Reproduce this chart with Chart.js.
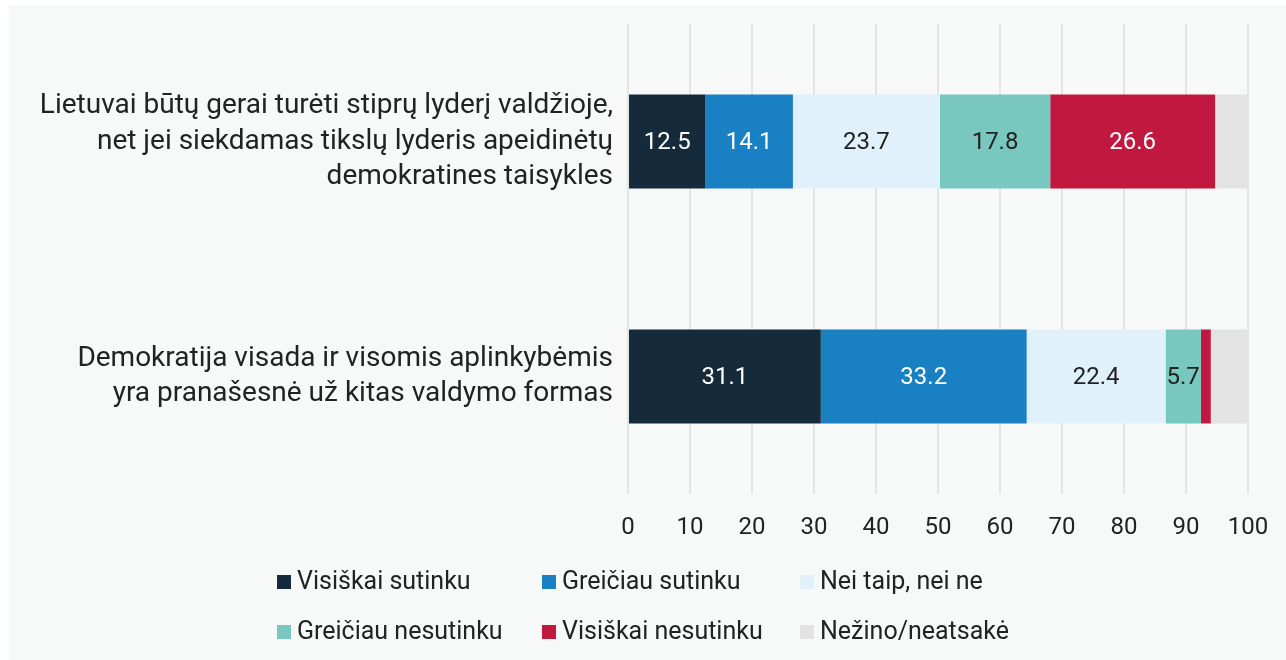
<!DOCTYPE html>
<html>
<head>
<meta charset="utf-8">
<script src="https://cdn.jsdelivr.net/npm/chart.js@4.4.1/dist/chart.umd.min.js"></script>
<style>
  html, body { margin: 0; padding: 0; background: #ffffff; }
  #panel { position: absolute; left: 9px; top: 5px; width: 1277px; height: 655px; background: #f7f9f9; }
  canvas { display: block; }
</style>
</head>
<body>
<div id="panel"><canvas id="c" width="1277" height="655"></canvas></div>
<script>
const categories = [
  ["Lietuvai būtų gerai turėti stiprų lyderį valdžioje,", "net jei siekdamas tikslų lyderis apeidinėtų", "demokratines taisykles"],
  ["Demokratija visada ir visomis aplinkybėmis", "yra pranašesnė už kitas valdymo formas"]
];
const seriesNames = ["Visiškai sutinku", "Greičiau sutinku", "Nei taip, nei ne", "Greičiau nesutinku", "Visiškai nesutinku", "Nežino/neatsakė"];
const visiskaiSutinku   = [12.5, 31.1];
const greiciauSutinku   = [14.1, 33.2];
const neiTaipNeiNe      = [23.7, 22.4];
const greiciauNesutinku = [17.8, 5.7];
const visiskaiNesutinku = [26.6, 1.6];
const nezinoNeatsake    = [5.3, 6.0];
const xTicks = [0, 10, 20, 30, 40, 50, 60, 70, 80, 90, 100];

const colors = ["#152b3c", "#1a80c4", "#e1f1fc", "#79c8c0", "#c0183f", "#e3e3e3"];
const labelColors = ["#ffffff", "#ffffff", "#222222", "#222222", "#ffffff", null];
const FONT = "Roboto";

const valuesList = [visiskaiSutinku, greiciauSutinku, neiTaipNeiNe, greiciauNesutinku, visiskaiNesutinku, nezinoNeatsake];
const datasets = valuesList.map((vals, i) => ({
  label: seriesNames[i],
  data: vals,
  backgroundColor: colors[i],
  borderWidth: 0,
  barPercentage: 0.8,
  categoryPercentage: 0.5
}));

const valueLabels = {
  id: 'valueLabels',
  afterDatasetsDraw(chart) {
    const ctx = chart.ctx;
    ctx.save();
    ctx.font = "24px " + FONT;
    ctx.textAlign = "center";
    ctx.textBaseline = "middle";
    chart.data.datasets.forEach((ds, i) => {
      if (!labelColors[i]) return;
      const meta = chart.getDatasetMeta(i);
      meta.data.forEach((bar, j) => {
        const v = ds.data[j];
        if (v < 3) return;
        const x = (bar.x + bar.base) / 2;
        ctx.fillStyle = labelColors[i];
        ctx.fillText(v.toFixed(1), x, bar.y + 1);
      });
    });
    ctx.restore();
  }
};

const gridLegend = {
  id: 'gridLegend',
  afterDraw(chart) {
    const ctx = chart.ctx;
    ctx.save();
    ctx.font = "25px " + FONT;
    ctx.textBaseline = "middle";
    ctx.textAlign = "left";
    const colX = [268, 533, 791];
    const rowY = [577, 627];
    chart.data.datasets.forEach((ds, i) => {
      const x = colX[i % 3];
      const y = rowY[Math.floor(i / 3)];
      ctx.fillStyle = ds.backgroundColor;
      ctx.fillRect(x, y - 7, 14, 14);
      ctx.fillStyle = "#222222";
      ctx.fillText(ds.label, x + 20, y + 1);
    });
    ctx.restore();
  }
};

new Chart(document.getElementById('c'), {
  type: 'bar',
  data: { labels: categories, datasets },
  options: {
    indexAxis: 'y',
    responsive: false,
    animation: false,
    layout: { padding: { top: 19, right: 38, bottom: 116, left: 0 } },
    plugins: { legend: { display: false }, tooltip: { enabled: false } },
    scales: {
      x: {
        stacked: true,
        min: 0, max: 100,
        afterBuildTicks(scale) { scale.ticks = xTicks.map(v => ({ value: v })); },
        grid: { color: "#e4e4e4", lineWidth: 2, drawTicks: false },
        border: { display: false },
        ticks: { font: { family: FONT, size: 24 }, color: "#222222", padding: 20, maxRotation: 0 },
        afterFit(scale) { scale.height = 50; scale.paddingLeft = 0; scale.paddingRight = 0; }
      },
      y: {
        stacked: true,
        grid: { display: false, drawTicks: false },
        border: { display: false },
        ticks: { font: { family: FONT, size: 28, lineHeight: 1.26 }, color: "#222222", padding: 15 },
        afterFit(scale) { scale.width = 619; scale.paddingTop = 0; scale.paddingBottom = 0; }
      }
    }
  },
  plugins: [valueLabels, gridLegend]
});
</script>
</body>
</html>
